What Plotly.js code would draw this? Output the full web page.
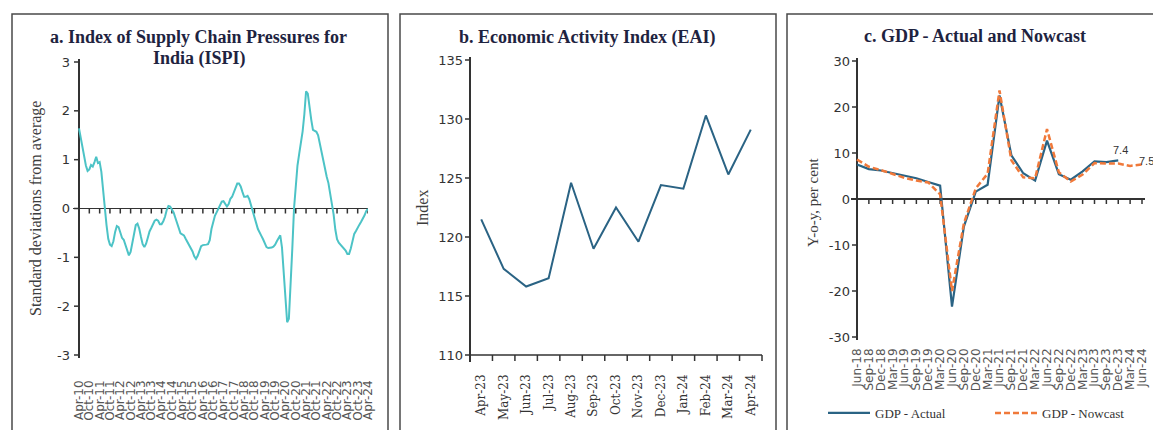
<!DOCTYPE html>
<html>
<head>
<meta charset="utf-8">
<script src="https://cdn.plot.ly/plotly-3.0.1.min.js"></script>
<style>
  html, body { margin: 0; padding: 0; background: #fff; overflow: hidden; }
  #chart { width: 1153px; height: 430px; }
</style>
</head>
<body>
<div id="chart"></div>
<script>
// ---------- Panel a: ISPI (monthly, Apr-2010 .. Apr-2024) ----------
const ispiValues = [
  1.64, 1.45, 1.30, 1.05, 0.88, 0.77, 0.80, 0.89, 0.86, 0.95, 1.06, 0.93,
  0.95, 0.75, 0.34, -0.03, -0.34, -0.62, -0.74, -0.77, -0.67, -0.48, -0.36, -0.38,
  -0.49, -0.60, -0.64, -0.74, -0.88, -0.96, -0.89, -0.68, -0.48, -0.34, -0.31, -0.41,
  -0.58, -0.73, -0.79, -0.72, -0.60, -0.47, -0.40, -0.31, -0.25, -0.23, -0.25, -0.32,
  -0.32, -0.26, -0.17, -0.03, 0.05, 0.04, -0.01, -0.08, -0.19, -0.29, -0.41, -0.51,
  -0.53, -0.55, -0.62, -0.68, -0.76, -0.82, -0.88, -0.98, -1.03, -0.97, -0.86, -0.77,
  -0.75, -0.75, -0.74, -0.73, -0.65, -0.42, -0.25, -0.15, -0.08, -0.01, 0.05, 0.14,
  0.15, 0.09, 0.04, 0.09, 0.20, 0.24, 0.33, 0.44, 0.51, 0.51, 0.45, 0.34,
  0.24, 0.24, 0.26, 0.19, 0.08, -0.04, -0.18, -0.30, -0.42, -0.51, -0.56, -0.63,
  -0.72, -0.79, -0.81, -0.81, -0.80, -0.78, -0.74, -0.67, -0.60, -0.55, -0.80, -1.35,
  -1.98, -2.33, -2.26, -1.64, -0.82, 0.00, 0.55, 0.88, 1.12, 1.35, 1.58, 1.93,
  2.40, 2.35, 2.05, 1.82, 1.61, 1.58, 1.57, 1.50, 1.33, 1.16, 0.98, 0.78,
  0.65, 0.52, 0.33, 0.13, -0.12, -0.43, -0.63, -0.70, -0.74, -0.77, -0.80, -0.86,
  -0.93, -0.93, -0.82, -0.65, -0.52, -0.46, -0.38, -0.33, -0.27, -0.21, -0.14, -0.05,
  -0.01
];
const ispiTickLabels = [
  "Apr-10","Oct-10","Apr-11","Oct-11","Apr-12","Oct-12","Apr-13","Oct-13",
  "Apr-14","Oct-14","Apr-15","Oct-15","Apr-16","Oct-16","Apr-17","Oct-17",
  "Apr-18","Oct-18","Apr-19","Oct-19","Apr-20","Oct-20","Apr-21","Oct-21",
  "Apr-22","Oct-22","Apr-23","Oct-23","Apr-24"
];
const ispiMonthsPerTick = 6;
const ispiYTicks = [-3, -2, -1, 0, 1, 2, 3];

// ---------- Panel b: EAI (monthly) ----------
const eaiMonths = ["Apr-23","May-23","Jun-23","Jul-23","Aug-23","Sep-23",
                   "Oct-23","Nov-23","Dec-23","Jan-24","Feb-24","Mar-24","Apr-24"];
const eaiValues = [121.5, 117.3, 115.8, 116.5, 124.6, 119.0,
                   122.5, 119.6, 124.4, 124.1, 130.3, 125.3, 129.1];
const eaiYTicks = [110, 115, 120, 125, 130, 135];

// ---------- Panel c: GDP actual and nowcast (quarterly) ----------
const gdpQuarters = ["Jun-18","Sep-18","Dec-18","Mar-19","Jun-19","Sep-19","Dec-19","Mar-20",
  "Jun-20","Sep-20","Dec-20","Mar-21","Jun-21","Sep-21","Dec-21","Mar-22",
  "Jun-22","Sep-22","Dec-22","Mar-23","Jun-23","Sep-23","Dec-23","Mar-24","Jun-24"];
const gdpActual = [7.5, 6.5, 6.2, 5.6, 5.1, 4.5, 3.7, 2.9,
  -23.4, -6.0, 1.6, 3.1, 22.5, 9.5, 5.6, 4.0,
  12.7, 5.4, 4.2, 6.0, 8.2, 8.0, 8.4, null, null];
const gdpNowcast = [8.6, 7.0, 6.3, 5.5, 4.6, 4.0, 3.6, 1.0,
  -20.0, -5.3, 2.3, 5.5, 23.6, 8.4, 4.7, 4.5,
  15.2, 5.8, 3.8, 5.3, 7.8, 7.7, 7.7, 7.2, 7.5];
const gdpYTicks = [-30, -20, -10, 0, 10, 20, 30];
const gdpLabelActual = "7.4";
const gdpLabelNowcast = "7.5";

// ---------- geometry helpers (layout only) ----------
const W = 1153, H = 430;
const PX = v => v / W;
const PY = v => 1 - v / H;
const AX = '#333333';

// core data range [lo,hi] placed at pixels [pLo,pHi]; extra pixels added at both ends
function xSpan(lo, hi, pLo, pHi, eLo, eHi) {
  const s = (pHi - pLo) / (hi - lo);
  return {s, range: [lo - eLo / s, hi + eHi / s], domain: [PX(pLo - eLo), PX(pHi + eHi)]};
}
function ySpan(lo, hi, pLo, pHi, eLo, eHi) { // pLo = bottom pixel, pHi = top pixel
  const s = (pLo - pHi) / (hi - lo);
  return {s, range: [lo - eLo / s, hi + eHi / s], domain: [PY(pLo + eLo), PY(pHi - eHi)]};
}

const ispiX = ispiValues.map((_, i) => i);
const ispiTickVals = ispiTickLabels.map((_, i) => i * ispiMonthsPerTick);
const eaiX = eaiMonths.map((_, i) => i + 0.5);
const eaiBounds = eaiMonths.map((_, i) => i).concat([eaiMonths.length]);
const gdpX = gdpQuarters.map((_, i) => i);

const xA = xSpan(0, ispiValues.length - 1, 79, 368, 6, 0);
const yA = ySpan(ispiYTicks[0], ispiYTicks[ispiYTicks.length - 1], 355, 62, 3, 3);
const xB = xSpan(0, eaiMonths.length, 470, 762, 6, 2);
const yB = ySpan(eaiYTicks[0], eaiYTicks[eaiYTicks.length - 1], 355, 60, 7, 3);
const xC = xSpan(0, gdpQuarters.length - 1, 857, 1142, 6, 3);
const yC = ySpan(gdpYTicks[0], gdpYTicks[gdpYTicks.length - 1], 337, 61, 3, 3);

// axis tick marks drawn with error bars through the axes' own scales
function yTickMarks(xa, ya, x0, ticks, len) {
  return {x: ticks.map(() => x0), y: ticks, xaxis: xa, yaxis: ya, type: 'scatter', mode: 'markers',
    marker: {size: 1, opacity: 0}, showlegend: false, hoverinfo: 'skip',
    error_x: {type: 'data', symmetric: false, array: ticks.map(() => 0),
              arrayminus: ticks.map(() => len), width: 0, thickness: 1.5, color: AX}};
}
function xTickMarks(xa, ya, xs, y0, len) {
  return {x: xs, y: xs.map(() => y0), xaxis: xa, yaxis: ya, type: 'scatter', mode: 'markers',
    marker: {size: 1, opacity: 0}, showlegend: false, hoverinfo: 'skip',
    error_y: {type: 'data', symmetric: false, array: xs.map(() => 0),
              arrayminus: xs.map(() => len), width: 0, thickness: 1.5, color: AX}};
}
function hLine(xa, ya, x0, x1, y0) {
  return {x: [x0], y: [y0], xaxis: xa, yaxis: ya, type: 'scatter', mode: 'markers',
    marker: {size: 1, opacity: 0}, showlegend: false, hoverinfo: 'skip',
    error_x: {type: 'data', symmetric: false, array: [x1 - x0], arrayminus: [0],
              width: 0, thickness: 1.5, color: AX}};
}

const traces = [
  // panel a
  yTickMarks('x', 'y', 0, ispiYTicks, 5 / xA.s),
  xTickMarks('x', 'y', ispiTickVals, 0, 5 / yA.s),
  {x: ispiX, y: ispiValues, xaxis: 'x', yaxis: 'y', type: 'scatter', mode: 'lines',
   line: {color: '#4cc3c6', width: 2}, showlegend: false},
  // panel b
  yTickMarks('x2', 'y2', 0, eaiYTicks, 5 / xB.s),
  xTickMarks('x2', 'y2', eaiBounds, eaiYTicks[0], 6 / yB.s),
  hLine('x2', 'y2', 0, eaiMonths.length, eaiYTicks[0]),
  {x: eaiX, y: eaiValues, xaxis: 'x2', yaxis: 'y2', type: 'scatter', mode: 'lines',
   line: {color: '#2a6384', width: 2}, showlegend: false},
  // panel c
  yTickMarks('x3', 'y3', 0, gdpYTicks, 5 / xC.s),
  xTickMarks('x3', 'y3', gdpX, 0, 5 / yC.s),
  {x: gdpX, y: gdpActual, xaxis: 'x3', yaxis: 'y3', type: 'scatter', mode: 'lines',
   name: 'GDP - Actual', line: {color: '#2a6384', width: 2.2}},
  {x: gdpX, y: gdpNowcast, xaxis: 'x3', yaxis: 'y3', type: 'scatter', mode: 'lines',
   name: 'GDP - Nowcast', line: {color: '#f0793a', width: 2.5, dash: '6px,3px'}}
];

const tickFontNum = {family: 'DejaVu Sans', size: 13, color: '#333'};
const tickFontDate = {family: 'DejaVu Sans', size: 12, color: '#555'};
const titleFont = {family: 'Liberation Serif', size: 18, color: '#1e2340', weight: 'bold'};
const yTitleFont = {family: 'Liberation Serif', size: 16, color: '#3d3d3d'};

const baseX = {
  type: 'linear', tickmode: 'array', tickangle: -90, ticks: '', showline: false,
  showgrid: false, zeroline: true, zerolinecolor: AX, zerolinewidth: 1.5,
  automargin: false, fixedrange: true
};
const baseY = {
  type: 'linear', tickmode: 'array', ticks: '', showline: false, showgrid: false,
  zeroline: true, zerolinecolor: AX, zerolinewidth: 1.5,
  tickfont: tickFontNum, automargin: false, fixedrange: true
};

const layout = {
  width: W, height: H, autosize: false,
  margin: {l: 0, r: 0, t: 0, b: 0, pad: 0, autoexpand: false},
  paper_bgcolor: '#fff', plot_bgcolor: '#fff',
  showlegend: true,
  legend: {orientation: 'h', x: PX(823), y: PY(413), xanchor: 'left', yanchor: 'middle',
           font: {family: 'Liberation Serif', size: 13, color: '#333'},
           bgcolor: 'rgba(0,0,0,0)', itemwidth: 42, entrywidth: 110, traceorder: 'normal'},
  // panel a
  xaxis: Object.assign({}, baseX, {domain: xA.domain, anchor: 'y', range: xA.range,
          tickvals: ispiTickVals, ticktext: ispiTickLabels, tickfont: tickFontDate,
          ticklabelstandoff: 19}),
  yaxis: Object.assign({}, baseY, {domain: yA.domain, anchor: 'x', range: yA.range,
          tickvals: ispiYTicks, ticktext: ispiYTicks.map(String), ticklabelstandoff: 2}),
  // panel b
  xaxis2: Object.assign({}, baseX, {domain: xB.domain, anchor: 'y2', range: xB.range,
          tickvals: eaiX, ticktext: eaiMonths,
          tickfont: {family: 'DejaVu Serif', size: 12, color: '#333'}, ticklabelstandoff: 9}),
  yaxis2: Object.assign({}, baseY, {domain: yB.domain, anchor: 'x2', range: yB.range,
          zeroline: false, tickvals: eaiYTicks, ticktext: eaiYTicks.map(String),
          ticklabelstandoff: 0}),
  // panel c
  xaxis3: Object.assign({}, baseX, {domain: xC.domain, anchor: 'y3', range: xC.range,
          tickvals: gdpX, ticktext: gdpQuarters, tickfont: tickFontDate,
          ticklabelstandoff: 5}),
  yaxis3: Object.assign({}, baseY, {domain: yC.domain, anchor: 'x3', range: yC.range,
          tickvals: gdpYTicks, ticktext: gdpYTicks.map(String), ticklabelstandoff: 0}),
  shapes: [
    {type: 'rect', xref: 'paper', yref: 'paper', x0: PX(12), x1: PX(388), y0: PY(445), y1: PY(14),
     line: {color: '#4a4a4a', width: 1.5}, fillcolor: 'rgba(0,0,0,0)', layer: 'below'},
    {type: 'rect', xref: 'paper', yref: 'paper', x0: PX(400), x1: PX(776), y0: PY(445), y1: PY(14),
     line: {color: '#4a4a4a', width: 1.5}, fillcolor: 'rgba(0,0,0,0)', layer: 'below'},
    {type: 'rect', xref: 'paper', yref: 'paper', x0: PX(787), x1: PX(1170), y0: PY(445), y1: PY(14),
     line: {color: '#4a4a4a', width: 1.5}, fillcolor: 'rgba(0,0,0,0)', layer: 'below'}
  ],
  annotations: [
    {text: 'a. Index of Supply Chain Pressures for', xref: 'paper', yref: 'paper',
     x: PX(198), y: PY(37), xanchor: 'center', yanchor: 'middle', showarrow: false, font: titleFont},
    {text: 'India (ISPI)', xref: 'paper', yref: 'paper',
     x: PX(199), y: PY(58), xanchor: 'center', yanchor: 'middle', showarrow: false, font: titleFont},
    {text: 'b. Economic Activity Index (EAI)', xref: 'paper', yref: 'paper',
     x: PX(587), y: PY(37), xanchor: 'center', yanchor: 'middle', showarrow: false, font: titleFont},
    {text: 'c. GDP - Actual and Nowcast', xref: 'paper', yref: 'paper',
     x: PX(975), y: PY(36), xanchor: 'center', yanchor: 'middle', showarrow: false, font: titleFont},
    {text: 'Standard deviations from average', xref: 'paper', yref: 'paper', textangle: -90,
     x: PX(36), y: PY(209), xanchor: 'center', yanchor: 'middle', showarrow: false, font: yTitleFont},
    {text: 'Index', xref: 'paper', yref: 'paper', textangle: -90,
     x: PX(422), y: PY(208), xanchor: 'center', yanchor: 'middle', showarrow: false, font: yTitleFont},
    {text: 'Y-o-y, per cent', xref: 'paper', yref: 'paper', textangle: -90,
     x: PX(813), y: PY(203), xanchor: 'center', yanchor: 'middle', showarrow: false,
     font: {family: 'Liberation Serif', size: 15, color: '#3d3d3d'}},
    {text: gdpLabelActual, xref: 'x3', yref: 'y3', x: 22, y: gdpActual[22], yshift: 10, xshift: 2,
     showarrow: false, font: {family: 'Liberation Sans', size: 11, color: '#333'}},
    {text: gdpLabelNowcast, xref: 'x3', yref: 'y3', x: 24, y: gdpNowcast[24], yshift: 4, xshift: 4,
     showarrow: false, font: {family: 'Liberation Sans', size: 11, color: '#333'}}
  ]
};

Plotly.newPlot('chart', traces, layout, {staticPlot: true, displayModeBar: false});
</script>
</body>
</html>
